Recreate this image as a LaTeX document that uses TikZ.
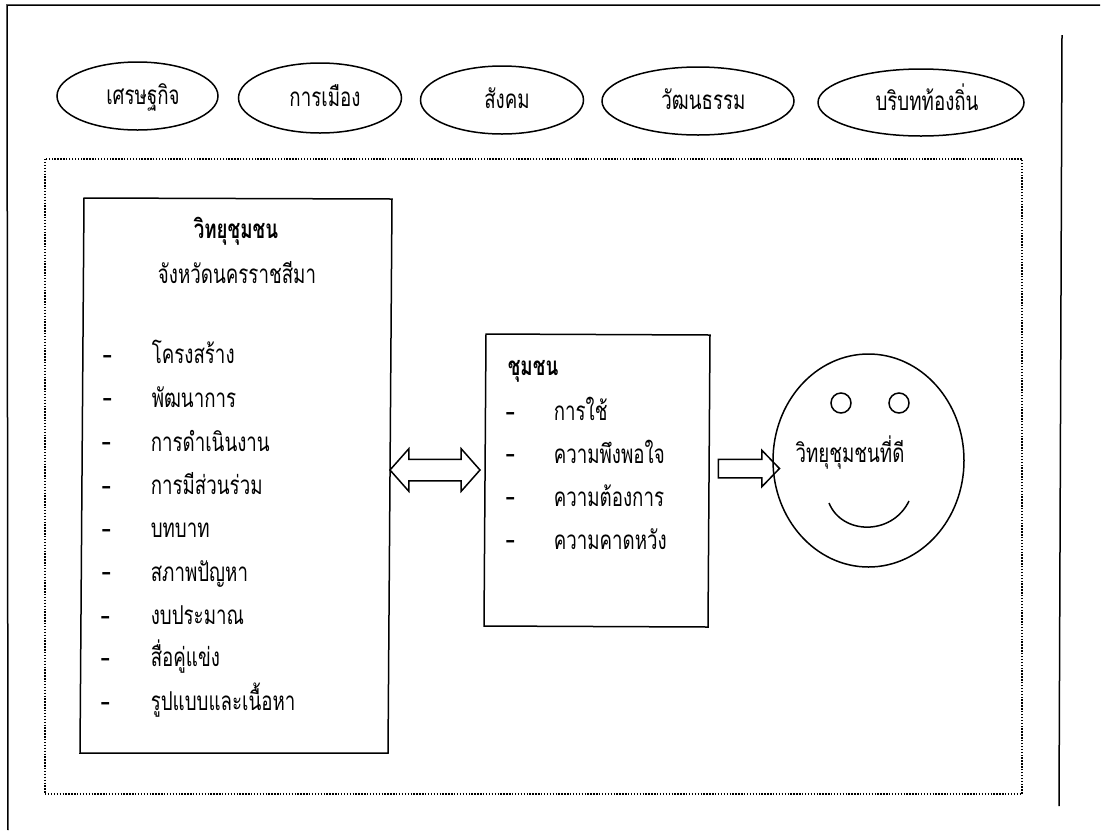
\documentclass[tikz,border=0pt]{standalone}
\usepackage{fontspec}
\usepackage{tikz}
\usetikzlibrary{shapes.geometric, shapes.arrows, calc, positioning}
\newfontfamily\thaifont[Script=Thai,FakeStretch=0.72]{Loma}
\tikzset{
    theme/.style={ellipse, draw, inner sep=0pt, text height=20pt, text depth=4pt, font=\thaifont\fontsize{26}{30}\selectfont},
    label/.style={anchor=base, inner sep=0pt, font=\thaifont\fontsize{26}{30}\selectfont},
    item/.style={label, anchor=base west},
    heading/.style={label, font=\thaifont\bfseries\fontsize{26}{30}\selectfont},
    bullet/.style={inner sep=0pt, font=\bfseries\fontsize{26}{30}\selectfont},
    blockarrow/.style={draw, inner xsep=0pt, outer sep=0pt}
}
\begin{document}
\begin{tikzpicture}[x=1pt, y=-1pt, line width=1.5pt]
    \useasboundingbox (0, 0) rectangle (1103, 831);

    % page frame
    \coordinate (framea) at (8, 830);
    \coordinate (frameb) at (7, 5);
    \coordinate (framec) at (1100, 5);
    \coordinate (framed) at (1062, 35);
    \coordinate (framee) at (1059, 806);
    \draw (framea) -- (frameb) -- (framec);
    \draw (framed) -- (framee);

    % themes along the top
    \node[theme, minimum width=161pt, minimum height=68pt] (economy) at (137.5, 96) {\hspace*{11pt}เศรษฐกิจ};
    \node[theme, minimum width=163pt, minimum height=70pt] (politics) at (320, 98) {\hspace*{10pt}การเมือง};
    \node[theme, minimum width=163pt, minimum height=68pt] (society) at (502, 100) {\hspace*{10pt}สังคม};
    \node[theme, minimum width=192pt, minimum height=68pt] (culture) at (698, 101) {\hspace*{11pt}วัฒนธรรม};
    \node[theme, minimum width=206pt, minimum height=67pt] (local) at (921, 102.5) {\hspace*{12pt}บริบทท้องถิ่น};

    % dotted area
    \coordinate (areaa) at (45, 159);
    \coordinate (areab) at (1022, 794);
    \draw[line width=1.5pt, dash pattern=on 1.4pt off 1.5pt] (areaa) rectangle (areab);

    % radio box
    \coordinate (radioa) at (84, 198);
    \coordinate (radiob) at (392, 199);
    \coordinate (radioc) at (388, 753);
    \coordinate (radiod) at (80, 753);
    \draw (radioa) -- (radiob) -- (radioc) -- (radiod) -- cycle;
    \node[heading] (radio) at (236, 238) {วิทยุชุมชน};
    \node[label] (province) at (237, 283) {จังหวัดนครราชสีมา};

    \node[bullet] (dasha) at (108, 359) {-};
    \node[bullet] (dashb) at (108, 402) {-};
    \node[bullet] (dashc) at (107, 446) {-};
    \node[bullet] (dashd) at (107, 490) {-};
    \node[bullet] (dashe) at (107, 533) {-};
    \node[bullet] (dashf) at (107, 576) {-};
    \node[bullet] (dashg) at (106, 620) {-};
    \node[bullet] (dashh) at (106, 662) {-};
    \node[bullet] (dashi) at (106, 706) {-};

    \node[item] (structure) at (151, 363) {โครงสร้าง};
    \node[item] (growth) at (151, 407) {พัฒนาการ};
    \node[item] (running) at (150, 451) {การดำเนินงาน};
    \node[item] (sharing) at (150, 494) {การมีส่วนร่วม};
    \node[item] (role) at (150, 537) {บทบาท};
    \node[item] (problem) at (150, 581) {สภาพปัญหา};
    \node[item] (budget) at (150, 624) {งบประมาณ};
    \node[item] (rival) at (150, 666) {สื่อคู่แข่ง};
    \node[item] (format) at (150, 710) {รูปแบบและเนื้อหา};

    % community box
    \coordinate (communitya) at (486, 334);
    \coordinate (communityb) at (710, 335);
    \coordinate (communityc) at (708, 627);
    \coordinate (communityd) at (484, 626);
    \draw (communitya) -- (communityb) -- (communityc) -- (communityd) -- cycle;
    \node[heading, anchor=base west] (community) at (507, 375) {ชุมชน};

    \node[bullet] (dashj) at (511, 416) {-};
    \node[bullet] (dashk) at (511, 458) {-};
    \node[bullet] (dashl) at (511, 501) {-};
    \node[bullet] (dashm) at (511, 544) {-};

    \node[item] (use) at (553, 420) {การใช้};
    \node[item] (liking) at (553, 463) {ความพึงพอใจ};
    \node[item] (needs) at (553, 506) {ความต้องการ};
    \node[item] (hope) at (553, 549) {ความคาดหวัง};

    % arrows
    \node[blockarrow, double arrow, inner ysep=10pt, minimum height=90pt, minimum width=41pt, double arrow head extend=10.5pt, double arrow tip angle=97] (link) at (435, 470) {};
    \node[blockarrow, single arrow, inner ysep=8.5pt, minimum height=61pt, minimum width=35pt, single arrow head extend=9pt, single arrow tip angle=92] (result) at (744.5, 468.5) {};

    % face
    \node[ellipse, draw, inner sep=0pt, minimum width=191pt, minimum height=213pt] (face) at (868.5, 460.5) {};
    \node[circle, draw, minimum size=20pt, inner sep=0pt] (eyea) at (841, 403) {};
    \node[circle, draw, minimum size=20pt, inner sep=0pt] (eyeb) at (899, 403) {};
    \coordinate (smilea) at (829, 503);
    \coordinate (smileb) at (909, 501);
    \draw (smilea) .. controls (842, 535) and (892, 536) .. (smileb);
    \node[label] (goodradio) at (850, 462) {วิทยุชุมชนที่ดี};
\end{tikzpicture}
\end{document}
